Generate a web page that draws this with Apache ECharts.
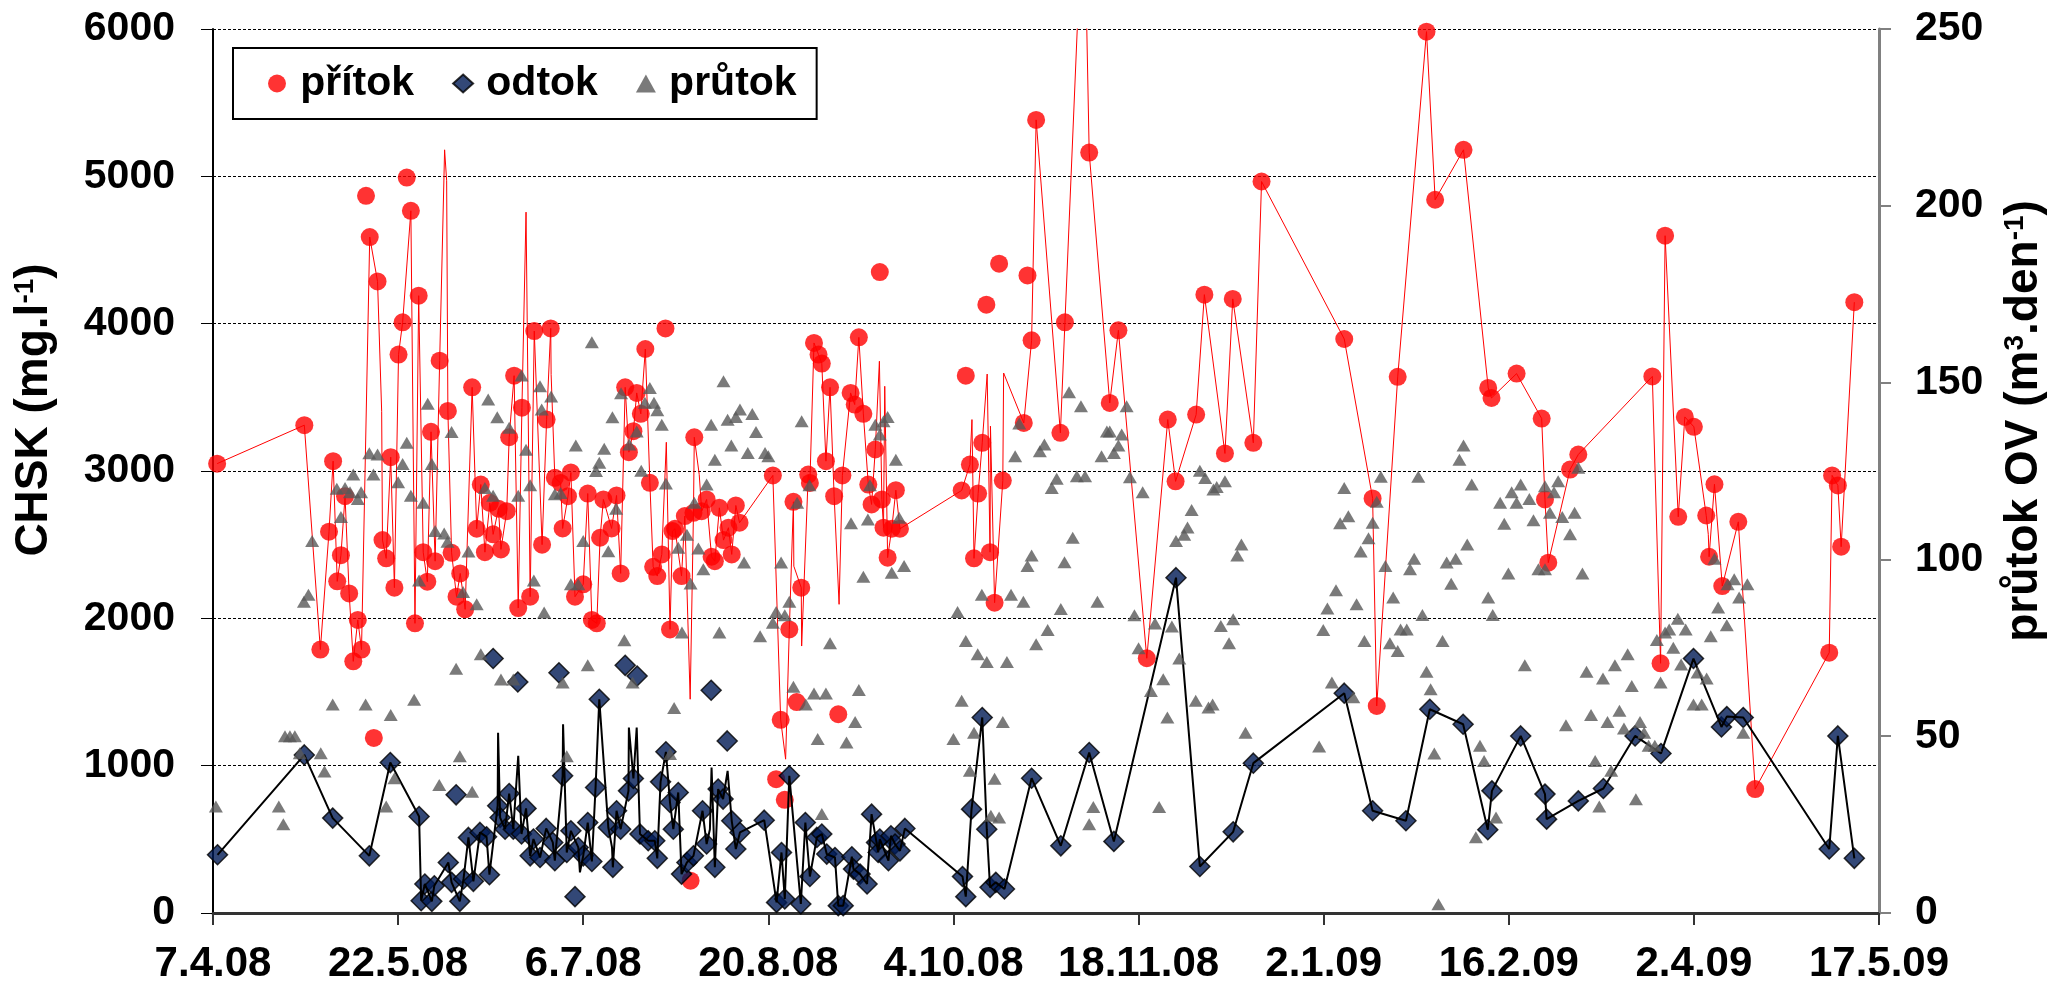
<!DOCTYPE html>
<html>
<head>
<meta charset="utf-8">
<script src="https://cdn.jsdelivr.net/npm/echarts@6/dist/echarts.min.js"></script>
<style>
html,body{margin:0;padding:0;background:#fff;}
#chart{width:2053px;height:996px;}
</style>
</head>
<body>
<div id="chart"></div>
<script>
// x = days since 7.4.2008
const startDate = Date.UTC(2008, 3, 7);
const xTickStep = 45;
const xMax = 405;

// přítok markers lying on the thin red line [day, CHSK mg/l]
const pritokOnLine = [[1,3050],[22.2,3311],[26.1,1788],[28.2,2588],[29.2,3067],[30.2,2251],[31.1,2429],[32.1,2829],[33.1,2169],[34.1,1708],[35.2,1989],[36.1,1788],[38.1,4588],[40,4287],[41.2,2531],[42.1,2407],[43.2,3094],[44.1,2208],[45.1,3790],[46.1,4009],[48.1,4766],[49.1,1966],[50,4190],[51.1,2449],[52.1,2249],[53,3266],[54,2388],[55.1,3749],[57.1,3408],[58,2445],[59.2,2147],[60.1,2305],[61.3,2061],[63,3568],[64.1,2608],[65.1,2908],[66.1,2449],[67.3,2784],[68.1,2570],[69.4,2744],[70,2468],[71.4,2727],[72,3229],[73.2,3647],[74.2,2070],[75.1,3430],[77.1,2147],[78.1,3950],[80,2500],[81.1,3349],[82.1,3968],[83.1,2954],[84.5,2919],[85,2610],[86.3,2829],[87,2990],[88,2147],[90,2231],[91.1,2847],[92.1,1989],[93.3,1966],[94.1,2547],[94.9,2807],[96.9,2610],[98.1,2834],[99.1,2305],[100.2,3568],[101.1,3128],[102.2,3270],[103,3530],[104,3388],[105.1,3828],[106.2,2920],[107,2350],[108,2287],[109.1,2434],[111.1,1925],[111.7,2592],[112.3,2608],[113.9,2287],[114.7,2694],[116.8,2716],[117,3229],[118.8,2727],[120,2807],[121.2,2418],[122,2388],[123.1,2750],[124.1,2531],[125.3,2615],[126.1,2434],[127.1,2766],[128,2649],[136.1,2970],[138,1311],[140.1,1925],[141.1,2791],[143,2208],[144.7,2976],[145.1,2919],[146.1,3869],[147.2,3790],[148,3729],[149,3067],[150,3568],[151,2829],[153,2970],[155,3530],[156,3451],[157,3907],[158.1,3388],[159.3,2908],[160.1,2773],[161,3146],[162.6,2807],[163,2615],[164,2412],[165,2608],[166,2870],[167,2608],[182,2868],[184,3044],[185,2407],[186,2847],[187,3191],[188.9,2449],[190,2106],[192,2935],[197.1,3326],[199,3887],[200.1,5383],[206,3259],[207.1,4009],[213,5161],[218,3462],[220.1,3955],[227,1729],[232.1,3349],[234,2930],[239,3383],[241,4197],[246,3119],[247.9,4168],[252.9,3191],[254.9,4965],[275,3896],[281.9,2814],[282.9,1405],[288,3639],[295,5982],[297.1,4841],[304,5180],[310,3564],[310.8,3496],[316.9,3661],[323,3356],[323.8,2807],[324.6,2378],[329.9,3010],[331.9,3112],[349.9,3642],[351.9,1695],[353,4597],[356.2,2689],[357.8,3367],[360,3300],[363,2698],[363.7,2418],[365,2910],[366.9,2219],[370.8,2655],[374.9,841],[392.9,1767],[393.6,2970],[395,2902],[395.8,2486],[399,4146]];
// přítok markers not on the line
const pritokOffLine = [[37.2,4868],[39.1,1188],[47.1,4992],[110,3968],[116.1,219],[136.9,908],[139,768],[141.9,1432],[152,1349],[162.1,4350],[183,3647],[188,4129],[191.1,4407],[198,4327]];
// extra vertices of the thin red line (no marker)
const pritokLineOnly = [[41,3405],[56.3,5180],[56.8,4970],[76.1,4757],[82.2,3654],[110.2,3195],[116,1451],[118.2,2976],[139.2,1044],[141.2,2354],[143.1,1812],[152.2,2095],[162,3745],[163.3,3575],[184.5,3349],[188.2,3658],[189,3304],[192.2,3665],[211,6600],[212,6600],[363.5,2570]];

// odtok markers on the black line
const odtokOnLine = [[1.1,395],[22.2,1073],[29.1,644],[38,388],[43.1,1021],[50.1,655],[50.6,83],[51.5,197],[53.2,79],[53.8,185],[57.2,343],[58,208],[60,79],[60.9,231],[62.1,513],[63.3,215],[64.9,547],[66.5,517],[67.2,260],[69.2,728],[69.8,648],[71,569],[72,811],[73,569],[75,536],[76.1,710],[77.1,388],[77.9,502],[79.5,377],[81,574],[82.6,479],[83.1,355],[85,931],[86,411],[87,558],[88.8,445],[90,388],[91.1,614],[92.1,350],[93,852],[93.9,1451],[96.1,580],[97.2,310],[98.1,694],[99.1,569],[101,829],[102.2,913],[103.8,536],[105.8,490],[107.4,490],[108,371],[108.8,890],[110.1,1094],[111.1,750],[111.9,569],[113.1,818],[113.9,264],[115.2,343],[116.8,388],[119,694],[120,468],[122,310],[122.8,841],[124,773],[126.1,626],[127.1,434],[128.1,547],[134,630],[137,72],[138.2,411],[139,95],[140.1,931],[142.9,61],[144,614],[145.1,248],[146.8,513],[148,536],[149.2,400],[151.2,377],[152,50],[153.2,50],[155.3,382],[155.7,298],[157.3,264],[159,197],[160.1,671],[161.3,479],[161.7,411],[162.1,502],[164.2,355],[164.8,524],[165.8,468],[167,422],[168.2,574],[182.2,248],[183,111],[184.4,705],[187,1327],[188.1,569],[188.9,174],[190.3,208],[192.4,163],[199,915],[206.1,456],[213,1089],[219,486],[234.1,2276],[239.9,316],[248,551],[252.9,1017],[275,1492],[281.9,694],[290,626],[295.8,1383],[303.9,1281],[309.9,565],[310.9,829],[317.9,1202],[323.8,807],[324.2,637],[331.9,761],[338,845],[345.7,1202],[352,1083],[359.9,1727],[366.7,1263],[368,1333],[372,1327],[392.9,434],[395,1202],[399,371]];
const odtokOffLine = [[59.1,802],[68.1,1727],[74.1,1568],[84.1,1631],[88,111],[100.2,1681],[103.1,1609],[121.1,1512],[125,1168]];
const odtokLineOnly = [[69.3,1224],[74.2,1067],[85.1,1281],[89.2,276],[97,445],[101.1,1259],[103,1259],[120.8,569],[121.2,988],[125.1,965]];

// průtok OV [day, m3/den]
const prutok = [[0.7,30.1],[16,30.1],[17.1,25.1],[17.5,50],[18.7,50],[19.9,50],[21.1,45.2],[22.1,88],[23.2,90],[24.1,105.2],[26.2,45.2],[27.1,40],[29.1,59],[30.1,120],[31.1,112],[32.1,120.2],[33.3,119],[34.1,124],[35.2,117.1],[36,119],[37.1,59],[38,130],[39,124],[40,129.7],[42.1,30.1],[43.2,56],[44.1,38.1],[45,121.8],[46.1,127],[47.1,133],[48.1,118],[48.9,60.3],[50.1,94],[51.1,116],[52.2,144],[53.2,127],[54,108],[55,36.2],[56.2,107.3],[57,105],[58,136],[59.1,69.1],[60,44.3],[60.8,90.8],[62.1,102.2],[63,34.3],[64.1,87.3],[65.1,73.2],[66.1,120.2],[66.9,145.2],[68.1,118],[69.1,140.2],[70,66],[72,137.2],[73,66],[74.2,118],[75,152],[76.1,131],[77.1,121],[78,94],[79.5,149],[79.9,142.4],[80.5,85],[82.2,146.1],[83.1,118.4],[84.5,118.8],[85,65.2],[86,44.3],[87,93],[88.2,132.2],[88.8,93],[90,105.2],[91.1,70.1],[92.1,161.4],[93.1,125],[93.9,127.3],[95.1,131.3],[96.1,102.3],[97.1,140.2],[98,114.3],[99.2,147],[100,77.1],[101.2,132.5],[102,65.2],[103,136.2],[104.1,125.1],[105,144.3],[106.2,148.5],[107.2,144.3],[108,142.2],[109.1,138.1],[110.1,121.5],[111.1,45],[112.1,58],[113.1,103.3],[114,79.3],[115.2,107],[116.1,93.2],[117,116],[118,103.1],[119.2,97.2],[120,121.2],[121.1,138.1],[122,128.2],[123.1,79.3],[124.1,150.4],[125.1,139.5],[126,132.2],[127.1,140.3],[128.1,142.4],[129.1,99.1],[130,130.1],[131.1,141.1],[132,136],[133,78.3],[134.2,130.1],[135,129.2],[136.1,82.1],[136.9,85.1],[138.1,99.1],[139,84.2],[140.1,88],[141.1,64],[142,116],[143.1,139.1],[144.1,59],[145,121],[146.1,62.1],[147,49.2],[148,28],[149,62.1],[150,76.3],[154,48.2],[155.1,110.2],[156.1,54],[157,63.1],[158.1,95.1],[159.2,111.3],[159.7,121],[161,138.1],[162.1,135.3],[163,139.1],[164,140.3],[165,96.2],[166,128.2],[166.8,111.8],[168,98.1],[180,49.2],[181,85.1],[182,60],[183,76.9],[184,40.2],[185,51],[185.9,73.2],[186.9,90],[188.1,71],[189.1,27.5],[190,38],[191.1,27],[192,54],[193,71],[194,90],[195,129.2],[196,138.4],[197,88],[198,98.1],[199,101.1],[200.1,76],[201,130.6],[202.1,132.5],[202.9,80],[203.9,120.2],[205.1,122.8],[206.1,86],[207,99.2],[208.1,147.3],[209,106.1],[210,123.5],[211,143.3],[212,123.5],[213,25.1],[214,30],[215,88],[216,129.2],[217.3,136.2],[218,136.2],[219,130.1],[220.1,132.2],[220.9,135.3],[222.1,143.3],[222.9,123.2],[224,84.2],[225,74.9],[226,119],[228,62.8],[229,81.9],[230,30],[231,66.1],[232,55.3],[233.1,81],[234.1,105.2],[234.9,72],[236.1,107],[236.9,109],[237.9,114],[238.9,60],[239.9,125.1],[241.2,123],[242,58.1],[243,59],[243.2,119.8],[244,120.5],[245,81.2],[246,122.1],[247,76.3],[248,83.1],[249,101.1],[250,104.2],[251,51],[268.9,47.1],[269.9,80],[270.9,86.1],[272,65.2],[273,91.3],[274,110.2],[275,120.2],[276,112.2],[277.2,61],[278,87.3],[279,102.2],[279.9,76.9],[280.9,106],[281.9,110.4],[282.9,116.3],[283.9,123.4],[285,98.1],[286.1,76.3],[286.9,89.2],[288,74.1],[288.7,80.2],[290.2,80.2],[291,97.2],[292,100.2],[293,123.4],[294,84.3],[295,68.2],[296,63.3],[296.9,45.1],[297.9,2.5],[298.9,76.9],[299.9,99.1],[301,93.1],[302.1,100.2],[303,128.2],[304,132.2],[304.9,104.2],[306,121.2],[307,21.4],[308,47.3],[309,43],[310,89.2],[311.1,84.3],[311.9,27],[312.9,116],[313.9,110.1],[314.9,96],[315.7,119],[316.9,116],[317.9,121.2],[318.9,70.1],[320,117.1],[321,111.1],[322.2,97.2],[323.8,97.2],[323.8,120.7],[325,113.2],[326,119],[327,122.1],[328,112],[328.9,53.1],[329.9,107.1],[331,113.2],[331.9,125.9],[332.9,96],[333.9,68.2],[335,56],[336,43],[337,30.1],[337.9,66.3],[339,54],[339.9,40.2],[340.8,70.1],[341.9,57.2],[343,52.2],[343.9,73.2],[344.9,64.2],[345.9,32.2],[346.9,54],[347.9,51],[349,47.3],[350.5,47.3],[351,77.2],[351.9,65.2],[353,79.3],[354,80.2],[355,75],[356.1,83.2],[356.9,70.3],[358,80.2],[359.9,59],[360.9,68],[361.9,59],[363.1,66.3],[364.1,78.3],[365,100.2],[365.9,86.4],[368,81.4],[368.2,93],[369.8,94.4],[371,89.2],[372,51],[373,93]];

const byDay = (a, b) => a[0] - b[0];
const pritokMarkers = pritokOnLine.concat(pritokOffLine).sort(byDay);
const pritokLine = pritokOnLine.concat(pritokLineOnly).sort(byDay);
const odtokMarkers = odtokOnLine.concat(odtokOffLine).sort(byDay);
const odtokLine = odtokOnLine.concat(odtokLineOnly).sort(byDay);

const FONT = "'Liberation Sans', Arial, sans-serif";
function dayLabel(v) {
  const d = new Date(startDate + Math.round(v) * 86400000);
  return d.getUTCDate() + '.' + (d.getUTCMonth() + 1) + '.' + String(d.getUTCFullYear()).slice(2);
}
const plain = v => String(v);

const chart = echarts.init(document.getElementById('chart'), null, {renderer: 'canvas'});
const titleRich = {
  b: {fontSize: 46, fontWeight: 'bold', fontFamily: FONT, color: '#000'},
  s: {fontSize: 28, fontWeight: 'bold', fontFamily: FONT, color: '#000', verticalAlign: 'top'}
};
chart.setOption({
  animation: false,
  backgroundColor: '#fff',
  grid: {left: 213, right: 174, top: 29, bottom: 83, containLabel: false},
  legend: {
    left: 233, top: 48,
    orient: 'horizontal',
    data: ['přítok', 'odtok', 'průtok'],
    formatter: n => '\u2009' + n,
    itemWidth: 20, itemHeight: 18, itemGap: 38,
    padding: [15, 20, 15, 35],
    borderColor: '#000', borderWidth: 2,
    backgroundColor: '#fff',
    textStyle: {fontSize: 41, fontWeight: 'bold', fontFamily: FONT, color: '#000'}
  },
  xAxis: {
    type: 'value', min: 0, max: xMax, interval: xTickStep,
    axisLine: {onZero: false, lineStyle: {color: '#333', width: 3}},
    axisTick: {show: true, inside: false, length: 12, lineStyle: {color: '#333', width: 2}},
    axisLabel: {formatter: dayLabel, fontSize: 42, fontWeight: 'bold', fontFamily: FONT, color: '#000', margin: 30},
    splitLine: {show: false}
  },
  yAxis: [{
    type: 'value', min: 0, max: 6000, interval: 1000, position: 'left',
    axisLine: {show: true, lineStyle: {color: '#000', width: 2}},
    axisTick: {show: true, inside: false, length: 12, lineStyle: {color: '#000', width: 1}},
    axisLabel: {formatter: plain, fontSize: 41, fontWeight: 'bold', fontFamily: FONT, color: '#000', margin: 38},
    splitLine: {show: true, lineStyle: {color: '#000', width: 1, type: [3, 2]}}
  }, {
    type: 'value', min: 0, max: 250, interval: 50, position: 'right',
    axisLine: {show: true, lineStyle: {color: '#808080', width: 3}},
    axisTick: {show: true, inside: false, length: 12, lineStyle: {color: '#808080', width: 2}},
    axisLabel: {formatter: plain, fontSize: 41, fontWeight: 'bold', fontFamily: FONT, color: '#000', margin: 36},
    splitLine: {show: false}
  }],
  graphic: [{
    type: 'text', x: 34, y: 410, rotation: Math.PI / 2,
    style: {text: '{b|CHSK (mg.l}{s|-1}{b|)}', rich: titleRich, align: 'center', verticalAlign: 'middle'}
  }, {
    type: 'text', x: 2024, y: 421, rotation: Math.PI / 2,
    style: {text: '{b|průtok OV (m}{s|3}{b|.den}{s|-1}{b|)}', rich: titleRich, align: 'center', verticalAlign: 'middle'}
  }],
  series: [{
    name: 'přítok', type: 'scatter', yAxisIndex: 0, z: 2,
    symbol: 'circle', symbolSize: 18,
    itemStyle: {color: '#FF0000'},
    data: pritokMarkers
  }, {
    name: 'přítok linie', type: 'line', yAxisIndex: 0, z: 3,
    showSymbol: false, symbol: 'none', clip: true,
    lineStyle: {color: '#FF0000', width: 1},
    data: pritokLine
  }, {
    name: 'odtok', type: 'scatter', yAxisIndex: 0, z: 4,
    symbol: 'diamond', symbolSize: 20,
    itemStyle: {color: '#001A55', borderColor: '#000', borderWidth: 1.5},
    data: odtokMarkers
  }, {
    name: 'odtok linie', type: 'line', yAxisIndex: 0, z: 5,
    showSymbol: false, symbol: 'none',
    lineStyle: {color: '#000', width: 2},
    data: odtokLine
  }, {
    name: 'průtok', type: 'scatter', yAxisIndex: 1, z: 6,
    symbol: 'triangle', symbolSize: [14, 12],
    itemStyle: {color: '#595959'},
    data: prutok
  }]
});
</script>
</body>
</html>
